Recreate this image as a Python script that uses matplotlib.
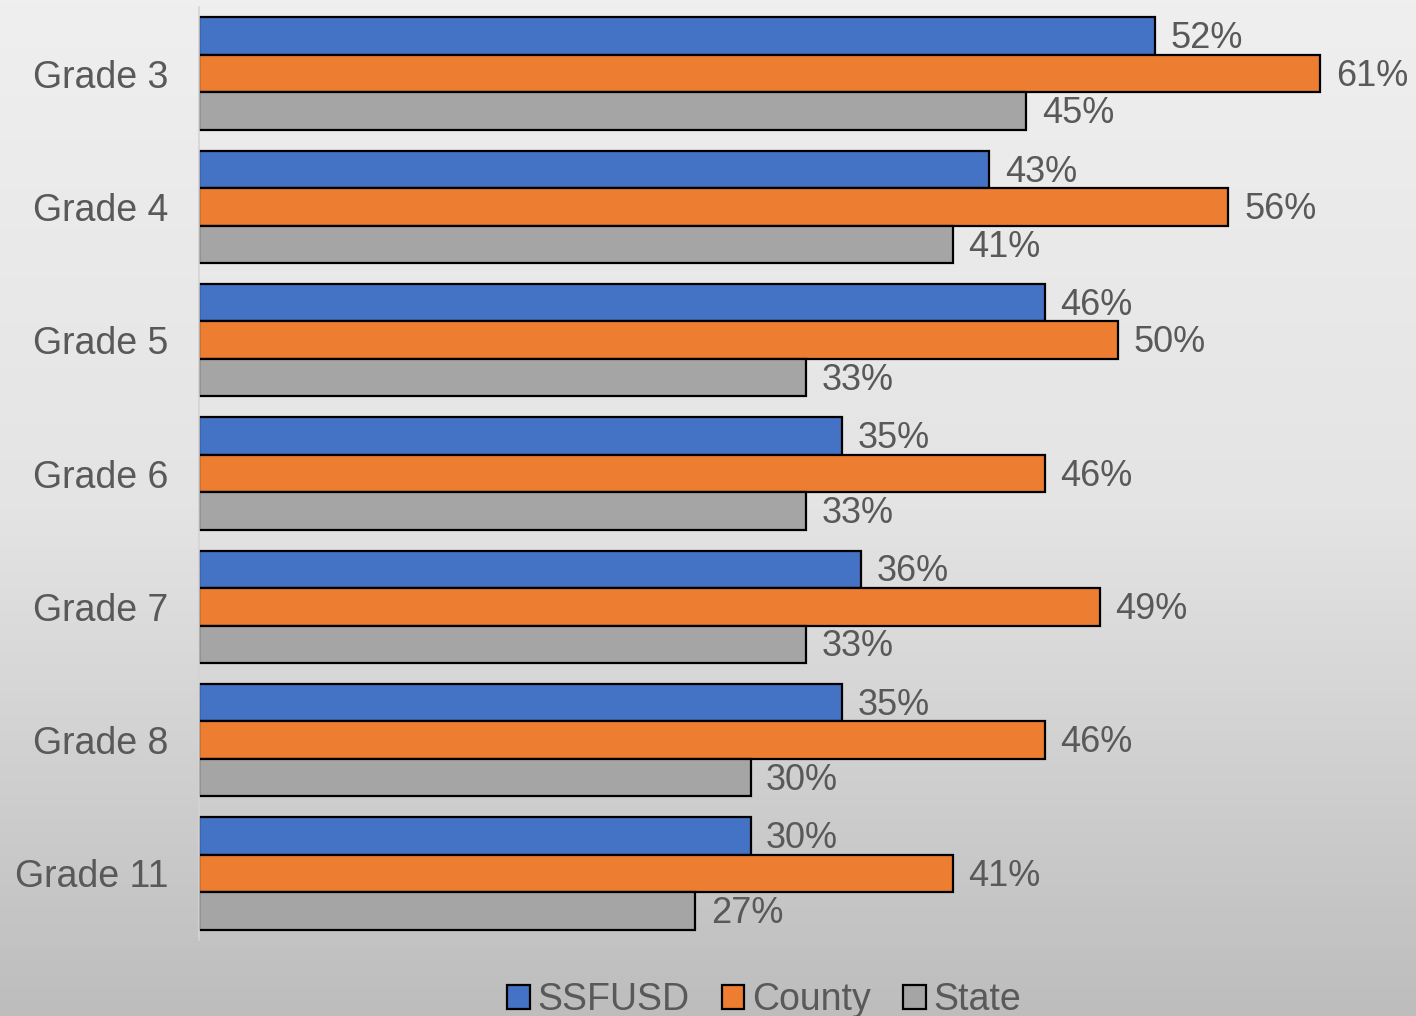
import numpy as np
import matplotlib
matplotlib.use("Agg")
import matplotlib.pyplot as plt
from matplotlib.colors import LinearSegmentedColormap

plt.rcParams['font.family'] = ['Liberation Sans', 'DejaVu Sans']

# Data
grades = ["Grade 3", "Grade 4", "Grade 5", "Grade 6", "Grade 7", "Grade 8", "Grade 11"]
ssfusd = [52, 43, 46, 35, 36, 35, 30]
county = [61, 56, 50, 46, 49, 46, 41]
state = [45, 41, 33, 33, 33, 30, 27]
series_names = ["SSFUSD", "County", "State"]
colors = ["#4472C4", "#ED7D31", "#A5A5A5"]
text_color = "#595959"

fig = plt.figure(figsize=(14.16, 10.16), dpi=100)

# Gradient background for the whole figure
bg = fig.add_axes([0, 0, 1, 1], zorder=-10)
grad = np.linspace(0, 1, 256).reshape(-1, 1)
cmap = LinearSegmentedColormap.from_list("bg", ["#efefef", "#e4e4e4", "#bdbdbd"])
bg.imshow(grad, aspect="auto", cmap=cmap, extent=[0, 1, 0, 1], origin="upper")
bg.axis("off")

ax = fig.add_axes([199 / 1416, 76 / 1016, 1 - 199 / 1416, 933 / 1016])
ax.set_facecolor("none")

y = np.arange(len(grades))
h = 0.281
for k, (vals, name, col) in enumerate(zip([ssfusd, county, state], series_names, colors)):
    pos = y + (k - 1) * h
    ax.barh(pos, vals, height=h, color=col, edgecolor="black",
            linewidth=1.6, label=name)
    for p, v in zip(pos, vals):
        ax.text(v + 0.85, p + 0.02, f"{v}%", va="center", ha="left",
                fontsize=26, color=text_color)

ax.set_xlim(0, 66.2)
ax.set_ylim(len(grades) - 0.5, -0.5)
ax.set_xticks([])
ax.set_yticks(y)
ax.set_yticklabels(grades, fontsize=27, color=text_color)
ax.tick_params(axis="y", length=0, pad=22)
for s in ["top", "right", "bottom"]:
    ax.spines[s].set_visible(False)
ax.spines["left"].set_color("#d4d4d4")
ax.spines["left"].set_linewidth(1.2)

handles, labels = ax.get_legend_handles_labels()
leg = fig.legend(handles, labels, loc="center", bbox_to_anchor=(764 / 1416, 1 - 1000 / 1016),
                 ncol=3, frameon=False, fontsize=27, handlelength=0.6, handleheight=0.6,
                 handletextpad=0.2, columnspacing=0.87)
for t in leg.get_texts():
    t.set_color(text_color)

fig.savefig("out.png", dpi=100)
